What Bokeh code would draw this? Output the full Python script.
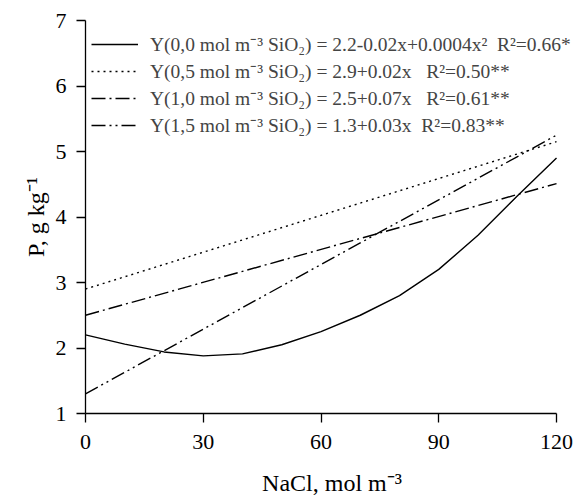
from bokeh.plotting import figure
from bokeh.models import Legend, LegendItem, FixedTicker
from bokeh.embed import file_html
from bokeh.resources import INLINE

# Data
nacl = [0, 10, 20, 30, 40, 50, 60, 70, 80, 90, 100, 110, 120]
p_si00 = [2.20, 2.06, 1.94, 1.88, 1.91, 2.05, 2.25, 2.50, 2.80, 3.20, 3.72, 4.32, 4.90]
nacl_lin = [0, 120]
p_si05 = [2.90, 5.15]
p_si10 = [2.50, 4.51]
p_si15 = [1.30, 5.25]

labels = [
    "Y(0,0 mol m\u207b\u00b3 SiO\u2082) = 2.2-0.02x+0.0004x\u00b2  R\u00b2=0.66*",
    "Y(0,5 mol m\u207b\u00b3 SiO\u2082) = 2.9+0.02x   R\u00b2=0.50**",
    "Y(1,0 mol m\u207b\u00b3 SiO\u2082) = 2.5+0.07x   R\u00b2=0.61**",
    "Y(1,5 mol m\u207b\u00b3 SiO\u2082) = 1.3+0.03x  R\u00b2=0.83**",
]
x_ticks = [0, 30, 60, 90, 120]
y_ticks = [1, 2, 3, 4, 5, 6, 7]

FONT = "Liberation Serif"

# frame extends a little past x=120 so the legend text is not clipped;
# the x axis itself is bounded to 0..120
p = figure(width=583, height=498, output_backend="svg", toolbar_location=None,
           x_range=(0, 125.6), y_range=(1, 7),
           min_border_left=85, min_border_right=5, min_border_top=20, min_border_bottom=85)
p.outline_line_color = None
p.xgrid.visible = False
p.ygrid.visible = False
p.background_fill_color = "white"
p.border_fill_color = "white"

lw = 1.4
r0 = p.line(nacl, p_si00, line_color="black", line_width=lw)
r1 = p.line(nacl_lin, p_si05, line_color="black", line_width=lw, line_dash="2 4")
r2 = p.line(nacl_lin, p_si10, line_color="black", line_width=lw, line_dash="14 4 2 4")
r3 = p.line(nacl_lin, p_si15, line_color="black", line_width=lw, line_dash="14 4 2 4 2 4")

for ax in (p.xaxis[0], p.yaxis[0]):
    ax.axis_line_color = "black"
    ax.axis_line_width = 1.3
    ax.major_tick_line_color = "black"
    ax.major_tick_line_width = 1.3
    ax.major_tick_out = 9
    ax.major_tick_in = 0
    ax.minor_tick_line_color = None
    ax.major_label_text_font = FONT
    ax.major_label_text_font_size = "22px"
    ax.major_label_text_color = "black"
    ax.axis_label_text_font = FONT
    ax.axis_label_text_font_size = "24px"
    ax.axis_label_text_font_style = "normal"
    ax.axis_label_text_color = "black"

p.xaxis.bounds = (0, 120)
p.xaxis.ticker = FixedTicker(ticks=x_ticks)
p.yaxis.ticker = FixedTicker(ticks=y_ticks)
p.xaxis.axis_label = "NaCl, mol m\u207b\u00b3"
p.yaxis.axis_label = "P, g kg\u207b\u00b9"
p.xaxis.major_label_standoff = 12
p.yaxis.major_label_standoff = 10
p.xaxis.axis_label_standoff = 18
p.yaxis.axis_label_standoff = 4

legend = Legend(items=[LegendItem(label=l, renderers=[r]) for l, r in zip(labels, [r0, r1, r2, r3])],
                location=(6, 275), padding=5, margin=0, spacing=0,
                glyph_width=47, glyph_height=26, label_height=26, label_standoff=12,
                label_text_font=FONT, label_text_font_size="19.5px",
                border_line_color=None, background_fill_alpha=0)
p.add_layout(legend)

open("out.html", "w").write(file_html(p, INLINE))
